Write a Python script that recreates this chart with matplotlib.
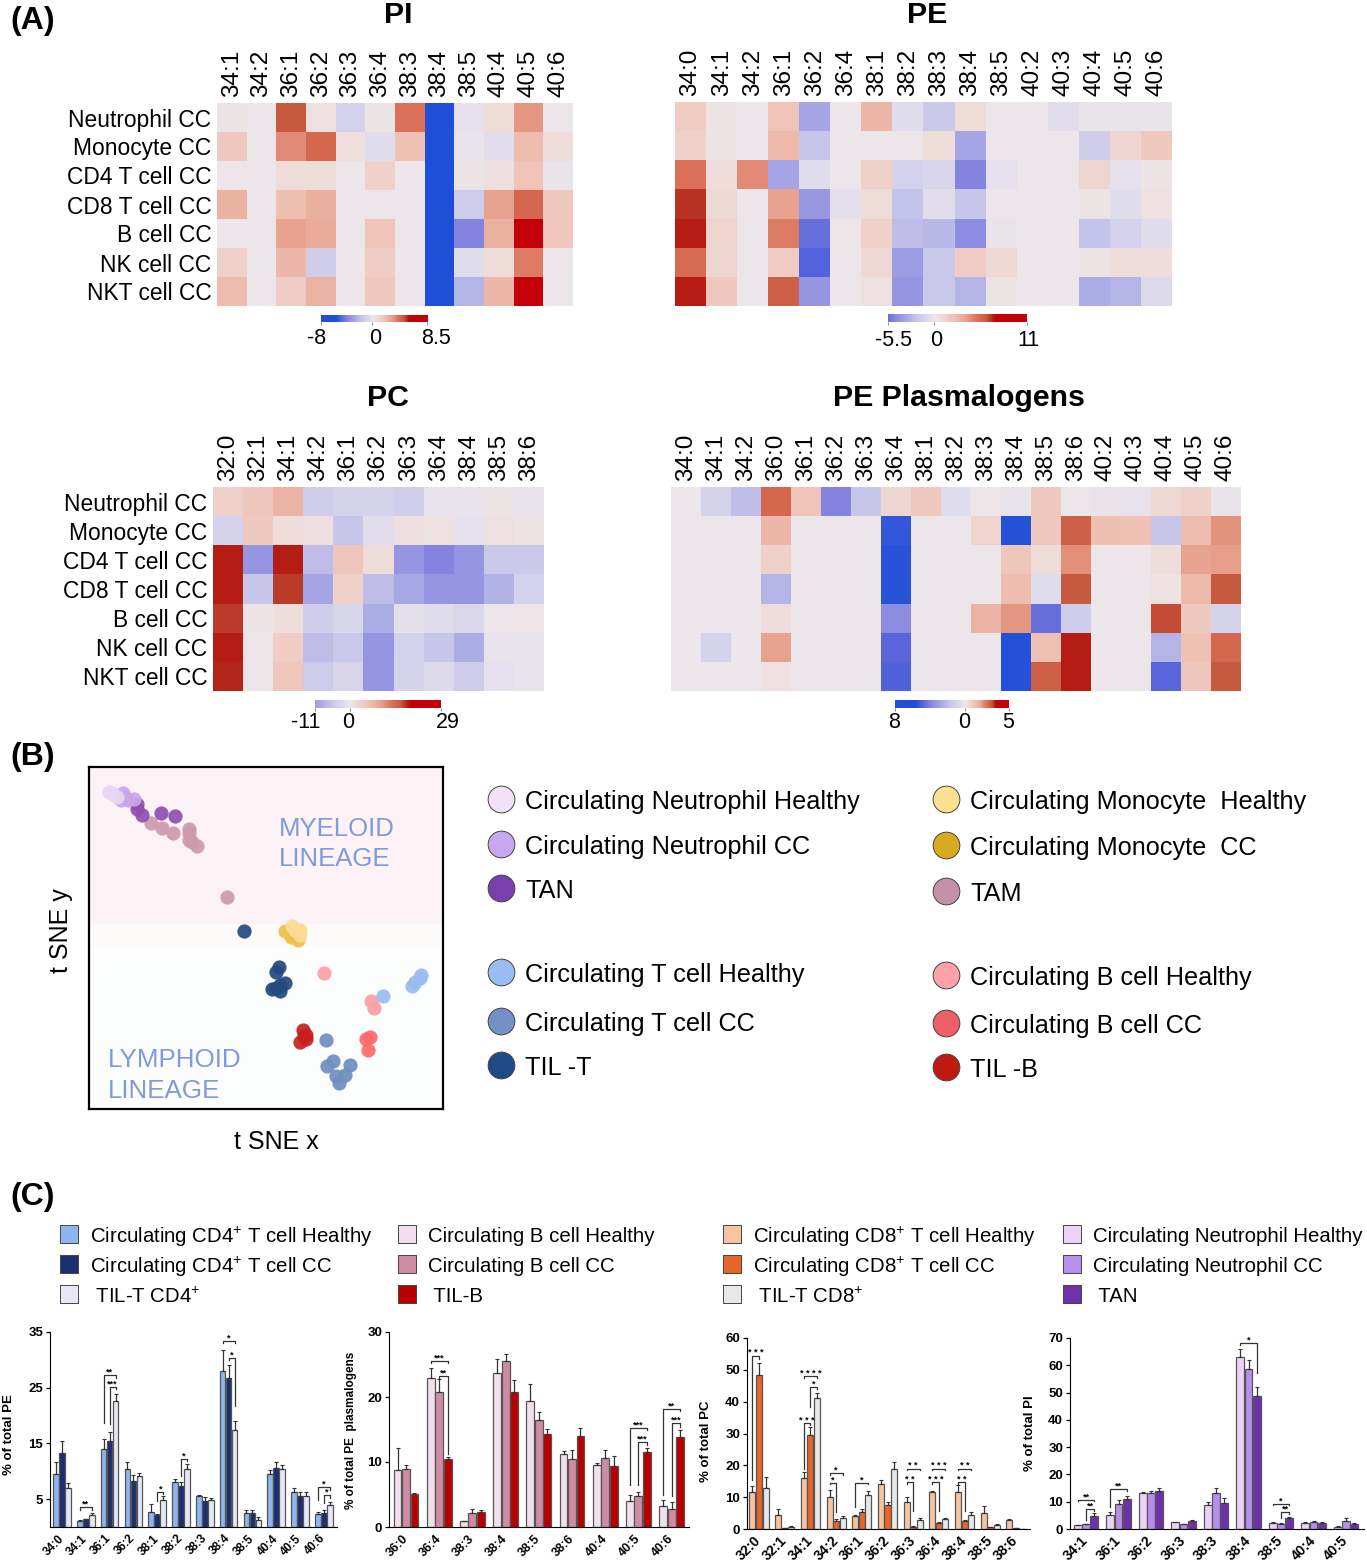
import matplotlib
matplotlib.use('Agg')
import matplotlib.pyplot as plt
import numpy as np
from matplotlib.colors import LinearSegmentedColormap, Normalize
from matplotlib.transforms import ScaledTranslation

plt.rcParams['font.family'] = ['Liberation Sans', 'DejaVu Sans']
plt.rcParams['mathtext.default'] = 'regular'

W, H = 1367, 1565

cell_types = ['Neutrophil CC', 'Monocyte CC', 'CD4 T cell CC', 'CD8 T cell CC',
              'B cell CC', 'NK cell CC', 'NKT cell CC']

# heatmap values are read as colour intensity, -10 (full blue) to 10 (full red)
pi_cols = ['34:1', '34:2', '36:1', '36:2', '36:3', '36:4', '38:3', '38:4', '38:5', '40:4', '40:5', '40:6']
pi_vals = [[0.3, 0, 8.5, 0.5, -2, 0.3, 7, -10, -0.5, 1, 5.5, 0],
           [2.5, 0, 6, 7.5, 0.7, -1, 3.2, -10, -0.3, -0.8, 3.5, 0.8],
           [0, 0, 1, 1, 0, 1.8, 0, -10, 0.3, 0.7, 3, -0.2],
           [4.2, 0, 3.3, 4.3, 0, 0, 0, -10, -2.5, 5, 7.5, 2.6],
           [0, 0, 5, 4.5, 0, 3, 0, -10, -7, 4.2, 10, 2.7],
           [1.8, 0, 3.8, -2.3, 0, 2.2, 0, -10, -1, 1, 6.5, 0],
           [3.5, 0, 2.2, 4, 0, 2.6, 0, -10, -4, 3.8, 10, 0]]

pe_cols = ['34:0', '34:1', '34:2', '36:1', '36:2', '36:4', '38:1', '38:2', '38:3', '38:4', '38:5', '40:2', '40:3', '40:4', '40:5', '40:6']
pe_vals = [[2.3, 0.3, 0, 3, -5, 0, 3.8, -1, -2.7, 1, 0, 0, -0.8, -0.2, -0.2, -0.2],
           [1.8, 0.3, 0, 3.6, -3, 0, 0, 0, 1, -5, 0, 0, 0, -2.3, 1.5, 2.6],
           [7, 0.8, 6, -5, -1, 0, 2, -2, -1.7, -7, -0.5, 0, 0, 1.5, -0.5, 0.3],
           [9.2, 1.2, 0, 5, -5.8, -0.7, 1, -3.2, -0.8, -3, 0, 0, 0, 0.3, -1, 0.5],
           [9.6, 1.7, 0, 6.5, -8, 0.2, 1.8, -3.5, -3.8, -6.5, -0.2, 0, 0, -3.2, -2, -1],
           [7.3, 1.5, 0, 2.2, -8.6, 0, 1.3, -5.5, -2.8, 2.2, 1.2, 0, 0, 0.3, 0.8, 0.8],
           [9.6, 2.5, 0, 8, -6, 0, 0.5, -6, -2.8, -4, 0.3, 0, 0, -4.5, -4, -1.2]]

pc_cols = ['32:0', '32:1', '34:1', '34:2', '36:1', '36:2', '36:3', '36:4', '38:4', '38:5', '38:6']
pc_vals = [[1.8, 2.8, 4, -2.3, -1.8, -1.8, -2.2, -0.4, -0.3, 0.3, -0.3],
           [-1.8, 2.5, 0.8, 0.7, -3, -0.8, 0.7, 0.5, -0.5, 0.5, 0.3],
           [9.6, -6, 9.6, -3.5, 2.8, 1, -6, -7, -6, -2.7, -2.7],
           [9.6, -3, 9, -5, 1.8, -3.5, -4.8, -6, -6, -4.2, -2],
           [9, 0.3, 0.8, -2.3, -1.5, -4.5, -0.6, -1, -1.4, 0, 0.1],
           [9.6, 0.1, 2.2, -3.5, -2.8, -6, -2, -3, -4.5, -0.3, -0.3],
           [9.4, 0.2, 2.7, -2.5, -1.6, -6, -1.8, -1.2, -2.5, -0.5, -0.3]]

pep_cols = ['34:0', '34:1', '34:2', '36:0', '36:1', '36:2', '36:3', '36:4', '38:1', '38:2', '38:3', '38:4', '38:5', '38:6', '40:2', '40:3', '40:4', '40:5', '40:6']
pep_vals = [[0, -1.8, -3.5, 7.5, 3, -7, -3, 1.5, 2.5, -1, 0.1, -0.3, 2.6, 0, -0.1, -0.4, 1.3, 1.8, -0.2],
            [0, 0, 0, 3.8, 0, 0, 0, -9.5, 0, 0, 1.7, -9.8, 2.5, 8, 3.3, 3.2, -3, 3.5, 5.7],
            [0, 0, 0, 2, 0, 0, 0, -9.7, 0, 0, 0, 2.8, 1, 5.8, 0, 0, 0.8, 5, 5.3],
            [0, 0, 0, -4, 0, 0, 0, -9.7, 0, 0, 0, 3.4, -1, 8.5, 0, 0, 0.4, 3.6, 8.5],
            [0, 0, 0, 0.8, 0, 0, 0, -6.5, 0, 0, 4, 5.5, -8, -2.3, 0, 0, 8.7, 2.5, -1.8],
            [0, -1.8, 0, 5, 0, 0, 0, -8.5, 0, 0, 0, -9.8, 3.2, 9.6, 0, 0, -4, 3.2, 7.5],
            [0, 0, 0, 0.5, 0, 0, 0, -8.7, 0, 0, 0, -9.8, 8, 9.6, 0, 0, -8.5, 2.8, 8.5]]

# t-SNE points, read in picture units of the frame
neut_h = [(88, 95), (100, 100), (112, 110), (95, 98)]
neut_cc = [(128, 98), (122, 118), (145, 120), (163, 116), (135, 112)]
tan = [(170, 132), (172, 145), (187, 163), (242, 157), (285, 167)]
tam = [(214, 189), (245, 202), (278, 217), (327, 205), (328, 218), (326, 240), (335, 245), (351, 256), (440, 411)]
mono_cc = [(617, 513), (635, 530), (655, 540), (640, 525)]
mono_h = [(638, 498), (660, 510), (660, 524), (645, 510)]
til_t = [(492, 514), (597, 622), (590, 635), (615, 668), (600, 675), (578, 686), (600, 692), (590, 685)]
b_h = [(732, 638), (875, 723), (882, 745)]
b_cc = [(858, 838), (872, 833), (865, 872)]
til_b = [(670, 810), (680, 825), (662, 848), (680, 838), (672, 830)]
t_h = [(1025, 645), (1020, 655), (1005, 665), (998, 678), (910, 708)]
t_cc = [(739, 841), (760, 905), (742, 918), (810, 916), (795, 945), (770, 950), (777, 971)]

# bar data, panel C
pe_groups = ['34:0', '34:1', '36:1', '36:2', '38:1', '38:2', '38:3', '38:4', '38:5', '40:4', '40:5', '40:6']
pe_h = [9.5, 1.0, 14, 10.5, 2.7, 8, 5.5, 28, 2.5, 9.6, 6.3, 2.3]
pe_cc = [13.2, 1.4, 15.5, 8.3, 2.2, 7.4, 4.6, 26.7, 2.6, 10.6, 5.6, 2.6]
pe_til = [7, 2.1, 22.7, 9.2, 4.8, 10.4, 4.9, 17.4, 1.3, 10.5, 5.6, 3.9]
pe_h_err = [2.2, 0.2, 1.8, 1.2, 1.5, 0.7, 0.3, 3.7, 0.6, 0.7, 0.7, 0.4]
pe_cc_err = [2.3, 0.1, 1.5, 1.1, 0.2, 0.7, 0.8, 2.4, 0.5, 1.1, 0.6, 0.4]
pe_til_err = [0.9, 0.4, 1.2, 0.5, 0.8, 0.9, 0.3, 1.6, 0.5, 0.7, 0.6, 0.5]

pl_groups = ['36:0', '36:4', '38:3', '38:4', '38:5', '38:6', '40:4', '40:5', '40:6']
pl_h = [8.8, 23, 0.9, 23.7, 19.4, 11.2, 9.5, 4, 3.2]
pl_cc = [9, 20.7, 2.2, 25.5, 16.5, 10.4, 10.6, 4.7, 2.8]
pl_til = [5.1, 10.5, 2.3, 20.7, 14.3, 14, 9.4, 11.6, 13.8]
pl_h_err = [3.3, 1.5, 0.1, 2.2, 2.6, 0.5, 0.4, 1, 1]
pl_cc_err = [0.5, 2.1, 0.6, 1.1, 1.2, 1.5, 1.2, 0.7, 1]
pl_til_err = [0.2, 0.2, 0.3, 1.9, 0.8, 1.3, 1.6, 0.5, 1.1]

pcb_groups = ['32:0', '32:1', '34:1', '34:2', '36:1', '36:2', '36:3', '36:4', '38:4', '38:5', '38:6']
pcb_h = [11.7, 4.3, 16, 10.2, 4, 14, 8.5, 11.7, 11.7, 5.1, 2.8]
pcb_cc = [48.5, 0.3, 29.5, 2.5, 5.3, 7.5, 0.7, 1.9, 2.6, 0.5, 0.3]
pcb_til = [12.8, 0.6, 41.3, 3.4, 10.7, 18.7, 2.8, 3, 4.5, 1.2, 0.1]
pcb_h_err = [1.8, 2, 1.8, 2.2, 0.4, 1.5, 1.7, 0.2, 2, 2.2, 0.3]
pcb_cc_err = [3.8, 0.1, 2.5, 0.6, 0.9, 1, 0.1, 0.2, 0.3, 0.2, 0.1]
pcb_til_err = [3.6, 0.2, 1.5, 0.8, 1.1, 2.2, 0.7, 0.6, 0.7, 0.4, 0]

pib_groups = ['34:1', '36:1', '36:2', '36:3', '38:3', '38:4', '38:5', '40:4', '40:5']
pib_h = [1.3, 5.3, 13.1, 2.5, 8.7, 63.2, 2.2, 2.3, 0.9]
pib_cc = [1.8, 9.3, 13.2, 1.8, 13.1, 58.5, 2, 2.6, 3]
pib_til = [4.8, 10.9, 14.1, 2.8, 9.6, 48.7, 4.1, 2.2, 1.9]
pib_h_err = [0.2, 1.1, 0.3, 0.2, 1.2, 2.6, 0.4, 0.1, 0.1]
pib_cc_err = [0.2, 1.2, 0.9, 0.1, 1.9, 3.5, 0.3, 0.2, 0.9]
pib_til_err = [1.2, 1.3, 1.1, 0.6, 1.6, 3.3, 0.2, 0.2, 0.3]

# significance: group, bar a, bar b, top, left end, right end, stars
pe_sig = [(1, 0, 2, 3.6, 3.0, 3.0, '**'), (2, 0, 2, 27.2, 18.7, 26.8, '**'), (2, 1, 2, 25.1, 18.5, 24.8, '***'),
          (4, 1, 2, 6.3, 4.6, 5.9, '*'), (5, 1, 2, 12.2, 9.2, 11.8, '*'), (7, 0, 2, 33.4, 33, 33, '*'),
          (7, 1, 2, 30.4, 30, 21.8, '*'), (11, 0, 2, 7.1, 4.9, 6.7, '*'), (11, 1, 2, 5.7, 4.3, 5.2, '*')]
pl_sig = [(1, 0, 2, 25.6, 25.2, 25.2, '***'), (1, 1, 2, 23.3, 23, 11.3, '**'), (7, 0, 2, 15.3, 6.5, 15, '***'),
          (7, 1, 2, 13.1, 6.5, 12.6, '***'), (8, 0, 2, 18.2, 5, 17.9, '**'), (8, 1, 2, 16, 4.7, 15.4, '***')]
pcb_sig = [(0, 0, 1, 54.4, 15.4, 53.5, '* * *'), (2, 0, 2, 48, 47.5, 47.5, '* * * *'), (2, 1, 2, 44.7, 38.2, 44, '*'),
           (2, 0, 1, 33.2, 19, 32.7, '* * *'), (3, 0, 2, 17.5, 17, 17, '*'), (3, 0, 1, 14.4, 14, 5.2, '*'),
           (4, 0, 2, 14.4, 7, 14, '*'), (6, 0, 2, 18.9, 18.4, 18.4, '* *'), (6, 0, 1, 14.7, 14.2, 5.8, '* *'),
           (7, 0, 2, 18.9, 18.4, 18.4, '* * *'), (7, 0, 1, 14.7, 14.2, 5.5, '* * *'), (8, 0, 2, 18.9, 18.4, 18.4, '* *'),
           (8, 0, 1, 14.7, 14.2, 5.5, '* *')]
pib_sig = [(0, 0, 2, 10.7, 10.1, 10.1, '**'), (0, 1, 2, 7.3, 3.4, 6.6, '**'), (1, 0, 2, 14.6, 8, 13.8, '**'),
           (5, 0, 2, 68.3, 67.4, 57, '*'), (6, 0, 2, 9.3, 8.7, 8.7, '*'), (6, 1, 2, 6.1, 3.9, 5.4, '**')]

intensity = [-10, -8.5, -7, -5, -3, -1, 0, 1, 3, 5, 7, 8.5, 9.5, 10]
ramp = ['#1f4fd8', '#5a66dc', '#8585e0', '#a5a5e5', '#c8c6ea', '#dfdcec', '#ece6ea', '#efdcd8',
        '#f0c4b8', '#e8a592', '#dc7058', '#c85a40', '#b02418', '#c40008']
cmap = LinearSegmentedColormap.from_list('heat', [((v + 10) / 20, c) for v, c in zip(intensity, ramp)])
norm = Normalize(-10, 10)

fig = plt.figure(figsize=(W / 100, H / 100), dpi=100)


def axes_px(x0, y0, x1, y1):
    return fig.add_axes([x0 / W, 1 - y1 / H, (x1 - x0) / W, (y1 - y0) / H])


canvas = fig.add_axes([0, 0, 1, 1], zorder=5)
canvas.set_xlim(0, W)
canvas.set_ylim(H, 0)
canvas.axis('off')
canvas.patch.set_alpha(0)


def heatmap(vals, cols, box, bar, vmin, vmax, lo, hi, key_labels, key_y, rows=True):
    ax = axes_px(*box)
    ax.imshow(vals, cmap=cmap, norm=norm, aspect='auto', interpolation='nearest')
    ax.set_xticks(range(len(cols)))
    ax.set_xticklabels(cols, rotation=90, fontsize=17.5, ha='center', va='bottom')
    shift = ScaledTranslation(2 / 100, 0, fig.dpi_scale_trans)
    for t in ax.get_xticklabels():
        t.set_transform(t.get_transform() + shift)
    ax.set_yticks(range(len(cell_types)))
    ax.set_yticklabels(cell_types if rows else [], fontsize=16.4)
    ax.xaxis.tick_top()
    ax.tick_params(length=0, pad=4)
    for s in ax.spines.values():
        s.set_visible(False)
    # colour key: value axis runs vmin..vmax, colour saturates before the ends
    cax = axes_px(*bar)
    v = np.linspace(vmin, vmax, 300)
    cax.imshow([np.interp(v, [vmin, 0, vmax], [lo, 0, hi])], cmap=cmap, norm=norm, aspect='auto',
               extent=[vmin, vmax, 0, 1])
    cax.set_yticks([])
    cax.set_xticks([vmin, 0, vmax])
    cax.set_xticklabels([])
    cax.tick_params(length=2, width=0.6, color='#777777')
    for s in cax.spines.values():
        s.set_visible(False)
    for label, x in key_labels:
        canvas.text(x, key_y, label, fontsize=15.5, ha='center', va='center')


heatmap(pi_vals, pi_cols, (217, 103, 573, 306), (321, 315, 427, 322), -8, 8.5, -14, 15,
        [('-8', 317), ('0', 375), ('8.5', 436)], 339)
heatmap(pe_vals, pe_cols, (675, 102, 1172, 306), (888, 314, 1027, 322), -5.5, 11, -8, 15,
        [('-5.5', 893), ('0', 936), ('11', 1028)], 340, rows=False)
heatmap(pc_vals, pc_cols, (213, 487, 544, 691), (315, 700, 441, 708), -11, 29, -5.5, 15,
        [('-11', 306), ('0', 348), ('29', 448)], 722)
heatmap(pep_vals, pep_cols, (671, 487, 1241, 691), (895, 700, 1009, 708), -8, 5, -14, 14,
        [('8', 894), ('0', 964), ('5', 1008)], 722, rows=False)

for label, x, y in [('PI', 398, 23), ('PE', 927, 23), ('PC', 388, 406), ('PE Plasmalogens', 959, 406)]:
    canvas.text(x, y, label, fontsize=21.8, fontweight='bold', ha='center', va='baseline')
for label, y in [('(A)', 21), ('(B)', 757), ('(C)', 1197)]:
    canvas.text(10, y, label, fontsize=23, fontweight='bold', ha='left', va='center')

# panel B
tsne = axes_px(89, 767, 443, 1109)
tsne.set_xlim(27, 1090)
tsne.set_ylim(1048, 20)
tsne.axhspan(20, 492, color='#fdf3f6', lw=0)
tsne.axhspan(492, 562, color='#fdfbf9', lw=0)
tsne.axhspan(562, 1048, color='#fcfdfd', lw=0)
groups = [(tam, '#cd9aac'), (tan, '#8e4fb0'), (neut_cc, '#c9a6e8'), (neut_h, '#ead5f5'),
          (mono_cc, '#eec050'), (mono_h, '#fbdc96'), (til_t, '#23497f'), (b_h, '#fda0a8'),
          (b_cc, '#fc6a6c'), (til_b, '#c82020'), (t_h, '#9bbcf0'), (t_cc, '#6f8fbf')]
for pts, col in groups:
    tsne.scatter([p[0] for p in pts], [p[1] for p in pts], s=105, color=col, alpha=0.92, lw=0)
tsne.set_xticks([])
tsne.set_yticks([])
for s in tsne.spines.values():
    s.set_linewidth(1.6)
canvas.text(279, 829, 'MYELOID', color='#7f9bdc', fontsize=18.5, va='center')
canvas.text(279, 859, 'LINEAGE', color='#7f9bdc', fontsize=18.5, va='center')
canvas.text(108, 1060, 'LYMPHOID', color='#7f9bdc', fontsize=18.7, va='center')
canvas.text(108, 1091, 'LINEAGE', color='#7f9bdc', fontsize=18.7, va='center')
canvas.text(61, 931, 't SNE y', fontsize=18, rotation=90, ha='center', va='center')
canvas.text(276, 1142, 't SNE x', fontsize=18, ha='center', va='center')

legend_b = [(501, 799, '#f2e2f6', 'Circulating Neutrophil Healthy'), (501, 844, '#c9a6f0', 'Circulating Neutrophil CC'),
            (501, 888, '#7a3fae', 'TAN'), (501, 972, '#9bbcf0', 'Circulating T cell Healthy'),
            (501, 1021, '#7490c4', 'Circulating T cell CC'), (501, 1065, '#1f4a86', 'TIL -T'),
            (946, 799, '#fbe090', 'Circulating Monocyte  Healthy'), (946, 845, '#d8aa20', 'Circulating Monocyte  CC'),
            (946, 891, '#c490a8', 'TAM'), (946, 975, '#fda0a8', 'Circulating B cell Healthy'),
            (946, 1023, '#ee6068', 'Circulating B cell CC'), (946, 1067, '#c01a10', 'TIL -B')]
for x, y, col, label in legend_b:
    canvas.scatter([x], [y], s=370, color=col, edgecolor='#444444', lw=0.7)
    canvas.text(x + 24, y + 3, label, fontsize=18.2, va='center')

# panel C legends
legend_c = [(60, ['#8fb4f0', '#1c2f6e', '#e6e6f6'],
             ['Circulating CD4$^{+}$ T cell Healthy', 'Circulating CD4$^{+}$ T cell CC', ' TIL-T CD4$^{+}$']),
            (398, ['#f0dfec', '#cf8aa4', '#b80000'],
             ['Circulating B cell Healthy', 'Circulating B cell CC', ' TIL-B']),
            (723, ['#f5c4a0', '#e8662a', '#e8e8e8'],
             ['Circulating CD8$^{+}$ T cell Healthy', 'Circulating CD8$^{+}$ T cell CC', ' TIL-T CD8$^{+}$']),
            (1063, ['#ecd2f8', '#b490ec', '#7030a8'],
             ['Circulating Neutrophil Healthy', 'Circulating Neutrophil CC', ' TAN'])]
for x, cols, labels in legend_c:
    for y, col, label in zip([1234, 1264, 1294], cols, labels):
        canvas.scatter([x + 9], [y], s=170, marker='s', color=col, edgecolor='#444444', lw=0.7)
        canvas.text(x + 30, y + 3, label, fontsize=14.7, va='center')


def bars(box, groups, series, errs, colors, ymax, yticks, ylabel, first, step, sig,
         tick_size=8.5, lab_size=9.5, label_x=9, label_y=1435):
    ax = axes_px(*box)
    x = np.arange(len(groups))
    left = (box[0] - first) / step
    right = (box[2] - first) / step
    for k, (vals, err, col) in enumerate(zip(series, errs, colors)):
        ax.bar(x + (k - 1) * 0.255, vals, 0.235, color=col, edgecolor='#555555', lw=0.9,
               yerr=[np.zeros(len(err)), err], capsize=1.4,
               error_kw={'ecolor': '#333333', 'elinewidth': 0.9, 'capthick': 0.8})
    for g, a, b, top, ya, yb, stars in sig:
        xa = g + (a - 1) * 0.255
        xb = g + (b - 1) * 0.255
        ax.plot([xa, xa, xb, xb], [ya, top, top, yb], color='#333333', lw=0.9)
        ax.text((xa + xb) / 2, top - ymax * 0.008, stars, fontsize=6.5, fontweight='bold', ha='center', va='bottom')
    ax.set_xlim(left, right)
    ax.set_ylim(0, ymax)
    ax.set_xticks(x)
    ax.set_xticklabels(groups, rotation=45, ha='right', va='center', rotation_mode='anchor',
                       fontsize=tick_size, fontweight='bold')
    ax.set_yticks(yticks)
    ax.set_yticklabels([str(t) for t in yticks], fontsize=9.5, fontweight='bold')
    ax.tick_params(axis='x', length=0, pad=7)
    ax.tick_params(axis='y', length=3, width=0.9, pad=2)
    ax.spines['top'].set_visible(False)
    ax.spines['right'].set_visible(False)
    canvas.text(label_x, label_y, ylabel, fontsize=lab_size, fontweight='bold',
                rotation=90, ha='center', va='center')


bars((50, 1332, 337, 1527), pe_groups, [pe_h, pe_cc, pe_til], [pe_h_err, pe_cc_err, pe_til_err],
     ['#8fb4f0', '#1c2f6e', '#e6e6f6'], 35, [5, 15, 25, 35], '% of total PE', 62, 23.8, pe_sig)
bars((389, 1332, 689, 1527), pl_groups, [pl_h, pl_cc, pl_til], [pl_h_err, pl_cc_err, pl_til_err],
     ['#f0dfec', '#cf8aa4', '#b80000'], 30, [0, 10, 20, 30], '% of total PE  plasmalogens', 406, 33.2, pl_sig,
     tick_size=9, lab_size=8.5, label_x=351, label_y=1430)
bars((747, 1338, 1030, 1529), pcb_groups, [pcb_h, pcb_cc, pcb_til], [pcb_h_err, pcb_cc_err, pcb_til_err],
     ['#f5c4a0', '#e8662a', '#e8e8e8'], 60, [0, 10, 20, 30, 40, 50, 60], '% of total PC', 759, 25.7, pcb_sig,
     tick_size=10, label_x=706, label_y=1441)
bars((1070, 1338, 1364, 1529), pib_groups, [pib_h, pib_cc, pib_til], [pib_h_err, pib_cc_err, pib_til_err],
     ['#ecd2f8', '#b490ec', '#7030a8'], 70, [0, 10, 20, 30, 40, 50, 60, 70], '% of total PI', 1086, 32.5, pib_sig,
     tick_size=10, label_x=1030, label_y=1433)

fig.savefig('out.png', dpi=100)
